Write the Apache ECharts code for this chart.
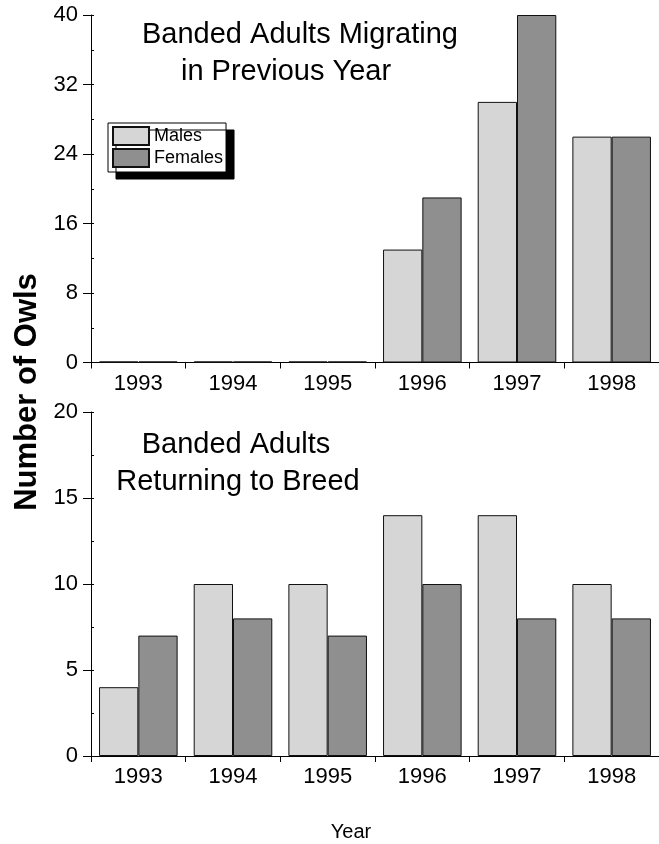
<!DOCTYPE html>
<html>
<head>
<meta charset="utf-8">
<script src="https://cdn.jsdelivr.net/npm/echarts@6/dist/echarts.min.js"></script>
<style>html,body{margin:0;padding:0;background:#fff;}#c{width:659px;height:844px;}</style>
</head>
<body>
<div id="c"></div>
<script>
const years = ['1993', '1994', '1995', '1996', '1997', '1998'];
const migratingMales = [0, 0, 0, 13, 30, 26];
const migratingFemales = [0, 0, 0, 19, 40, 26];
const breedingMales = [4, 10, 10, 14, 14, 10];
const breedingFemales = [7, 8, 7, 10, 8, 8];
const topTicks = { min: 0, max: 40, interval: 8 };
const bottomTicks = { min: 0, max: 20, interval: 5 };

const FONT = '"Liberation Sans", Arial, sans-serif';
const MALE = '#d6d6d6', FEMALE = '#8f8f8f';

const chart = echarts.init(document.getElementById('c'), null, { renderer: 'canvas' });

function xAx(gi) {
  return {
    type: 'category', gridIndex: gi, data: years,
    axisLine: { lineStyle: { color: '#000', width: 1 } },
    axisTick: { show: true, length: 6, lineStyle: { color: '#000' } },
    axisLabel: { color: '#000', fontSize: 22, fontFamily: FONT, margin: 10 }
  };
}
function yAx(gi, t) {
  return {
    type: 'value', gridIndex: gi, position: 'left', min: t.min, max: t.max, interval: t.interval,
    axisLine: { show: true, lineStyle: { color: '#000', width: 1 } },
    axisTick: { show: true, length: 8, lineStyle: { color: '#000' } },
    axisLabel: { color: '#000', fontSize: 22, fontFamily: FONT, margin: 13 },
    splitLine: { show: false }
  };
}
function yMinor(gi, t) {
  return {
    type: 'value', gridIndex: gi, position: 'left', offset: 0, min: t.min, max: t.max, interval: t.interval / 2,
    axisLine: { show: false },
    axisTick: { show: true, inside: true, length: 3, lineStyle: { color: '#000' } },
    axisLabel: { show: false },
    splitLine: { show: false }
  };
}
function bar(name, data, xi, yi, color, minH) {
  return {
    type: 'bar', name: name, data: data, xAxisIndex: xi, yAxisIndex: yi,
    barGap: '0%', barCategoryGap: '17%', barMinHeight: minH,
    itemStyle: { color: color, borderColor: '#111', borderWidth: 1 },
    emphasis: { disabled: true }, animation: false
  };
}

chart.setOption({
  backgroundColor: '#fff',
  animation: false,
  grid: [
    { left: 91, top: 15, width: 572, height: 347.5 },
    { left: 91, top: 412, width: 572, height: 344 }
  ],
  xAxis: [xAx(0), xAx(1)],
  yAxis: [yAx(0, topTicks), yAx(1, bottomTicks), yMinor(0, topTicks), yMinor(1, bottomTicks)],
  legend: {
    data: ['Males', 'Females'], orient: 'vertical', left: 108, top: 123,
    itemWidth: 36, itemHeight: 18, itemGap: 2, icon: 'rect',
    padding: [3, 3, 4, 4],
    textStyle: { fontSize: 18, fontFamily: FONT, color: '#000', lineHeight: 18 },
    backgroundColor: '#fff', borderColor: '#000', borderWidth: 1,
    shadowColor: '#000', shadowOffsetX: 8, shadowOffsetY: 7, shadowBlur: 0,
    selectedMode: false
  },
  series: [
    bar('Males', migratingMales, 0, 0, MALE, 1),
    bar('Females', migratingFemales, 0, 0, FEMALE, 1),
    bar('Males', breedingMales, 1, 1, MALE, 0),
    bar('Females', breedingFemales, 1, 1, FEMALE, 0)
  ],
  graphic: [
    { type: 'text', x: 300, y: 35, style: { text: 'Banded Adults Migrating', font: '29px ' + FONT, fill: '#000', textAlign: 'center', textVerticalAlign: 'middle' } },
    { type: 'text', x: 286, y: 72, style: { text: 'in Previous Year', font: '29px ' + FONT, fill: '#000', textAlign: 'center', textVerticalAlign: 'middle' } },
    { type: 'text', x: 236, y: 445, style: { text: 'Banded Adults', font: '29px ' + FONT, fill: '#000', textAlign: 'center', textVerticalAlign: 'middle' } },
    { type: 'text', x: 238, y: 482, style: { text: 'Returning to Breed', font: '29px ' + FONT, fill: '#000', textAlign: 'center', textVerticalAlign: 'middle' } },
    { type: 'text', x: 27, y: 392, rotation: Math.PI / 2, style: { text: 'Number of Owls', font: 'bold 31px ' + FONT, fill: '#000', textAlign: 'center', textVerticalAlign: 'middle' } },
    { type: 'text', x: 351, y: 832, style: { text: 'Year', font: '20px ' + FONT, fill: '#000', textAlign: 'center', textVerticalAlign: 'middle' } }
  ]
});
</script>
</body>
</html>
